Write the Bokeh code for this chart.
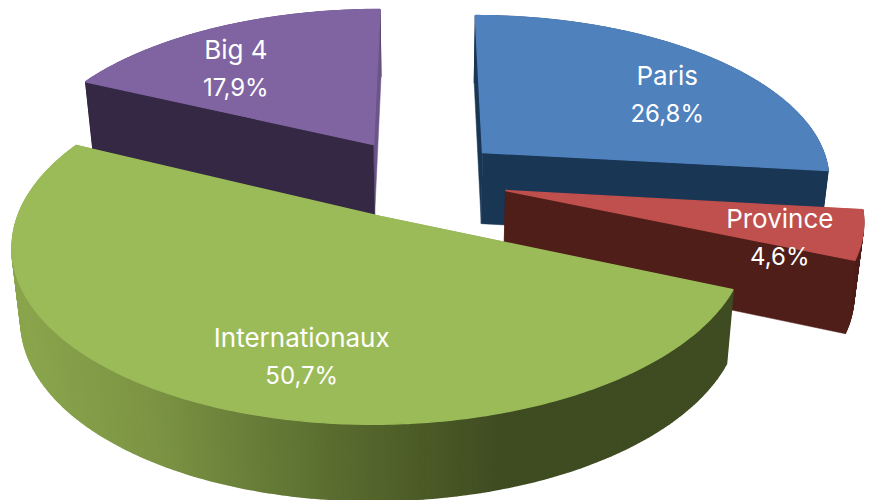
import math
from bokeh.plotting import figure
from bokeh.models import Range1d
from bokeh.embed import file_html
from bokeh.resources import INLINE
from bokeh.core.properties import value

# data
names = ["Paris", "Province", "Internationaux", "Big 4"]
shares = [26.8, 4.6, 50.7, 17.9]
share_labels = ["26,8%", "4,6%", "50,7%", "17,9%"]

# style
top_colors = ["#4F81BD", "#C0504D", "#9BBB59", "#8064A2"]
face_colors = ["#1A3655", "#4F1E19", "#3F4C22", "#352844"]
back_face_colors = {"Big 4": "#6B5488"}
rim_stops = [(20, (138, 165, 76)), (150, (124, 148, 68)), (300, (95, 115, 51)),
             (440, (72, 87, 37)), (500, (63, 76, 34))]

# projection
CX, CY = 425.0, 190.0
A, B, K = 362.0, 168.0, 0.15
H, HK, S = 72.0, 0.05, 0.022
apex = {"Paris": (482, 152), "Province": (505, 190), "Internationaux": (380, 216), "Big 4": (373, 144)}
scale_a = {"Paris": 0.976, "Province": 0.973, "Internationaux": 0.98, "Big 4": 0.987}
label_r = {"Paris": 0.62, "Province": 0.78, "Internationaux": 0.55, "Big 4": 0.62}
label_nudge = {"Paris": (39, 3), "Province": (-2, 13), "Internationaux": (14, 44), "Big 4": (-36, -1)}


def project(U, V, a=A):
    w = 1.0 / (1.0 - K * V)
    return CX + a * U * w, CY + B * V * w


def unproject(x, y, a=A):
    t = y - CY
    V = t / (B + K * t)
    w = 1.0 / (1.0 - K * V)
    return (x - CX) / (a * w), V


def lower(x, y, V):
    return CX + (x - CX) * (1 - S), y + H * (1 + HK * V)


def rim_color(x):
    if x <= rim_stops[0][0]:
        c = rim_stops[0][1]
    elif x >= rim_stops[-1][0]:
        c = rim_stops[-1][1]
    else:
        for (x0, c0), (x1, c1) in zip(rim_stops, rim_stops[1:]):
            if x0 <= x <= x1:
                f = (x - x0) / (x1 - x0)
                c = tuple(c0[i] + f * (c1[i] - c0[i]) for i in range(3))
                break
    return "#%02x%02x%02x" % tuple(int(round(v)) for v in c)


p = figure(width=870, height=500, x_range=Range1d(0, 870), y_range=Range1d(500, 0),
           toolbar_location=None, output_backend="svg", min_border=0,
           x_axis_location=None, y_axis_location=None, outline_line_color=None)
p.grid.visible = False
p.background_fill_color = "white"
p.border_fill_color = "white"

layers = {}
total = sum(shares)
cum = 0.0
for name, share, top, face in zip(names, shares, top_colors, face_colors):
    t0 = 360.0 * cum / total
    cum += share
    t1 = 360.0 * cum / total
    layers[name] = (t0, t1, top, face)

for name in ["Big 4", "Paris", "Province", "Internationaux"]:
    t0, t1, top, face = layers[name]
    a = A * scale_a[name]
    U0, V0 = unproject(*apex[name], a)
    n = max(12, int((t1 - t0) * 1.5))
    arc = []
    for i in range(n + 1):
        th = math.radians(t0 + (t1 - t0) * i / n)
        U, V = U0 + math.sin(th), V0 - math.cos(th)
        arc.append((*project(U, V, a), V))
    ap = (*project(U0, V0, a), V0)

    # rim
    for q0, q1 in zip(arc, arc[1:]):
        l0, l1 = lower(*q0), lower(*q1)
        green = name == "Internationaux"
        col = rim_color((q0[0] + q1[0]) / 2) if green else face
        width = 2.0 if green and q0[2] > 0.35 else 1.0
        p.patch([q0[0], q1[0], l1[0], l0[0]], [q0[1], q1[1], l1[1], l0[1]],
                fill_color=col, line_color=col, line_width=width)

    # cut faces: the one looking away from the viewer first, the long front one last
    edges = sorted((arc[0], arc[-1]), key=lambda q: -q[0] if name == "Big 4" else q[0])
    for j, edge in enumerate(edges):
        col = back_face_colors.get(name, face) if j == 0 else face
        xs = [ap[0], edge[0], lower(*edge)[0], lower(*ap)[0]]
        ys = [ap[1], edge[1], lower(*edge)[1], lower(*ap)[1]]
        p.patch(xs, ys, fill_color=col, line_color=col, line_width=0.5)

    # top
    p.patch([ap[0]] + [q[0] for q in arc], [ap[1]] + [q[1] for q in arc],
            fill_color=top, line_color=top, line_width=1.4)

for name, lab in zip(names, share_labels):
    t0, t1, top, face = layers[name]
    a = A * scale_a[name]
    U0, V0 = unproject(*apex[name], a)
    mid = math.radians((t0 + t1) / 2)
    r = label_r[name]
    x, y = project(U0 + r * math.sin(mid), V0 - r * math.cos(mid), a)
    x += label_nudge[name][0]
    y += label_nudge[name][1]
    for txt, dy, size in ((name, -19, "26px"), (lab, 19, "24px")):
        p.text([x], [y + dy], text=[txt], text_color="white", text_font=value("Inter"),
               text_font_size=size, text_align="center", text_baseline="middle")

open("out.html", "w").write(file_html(p, INLINE))
